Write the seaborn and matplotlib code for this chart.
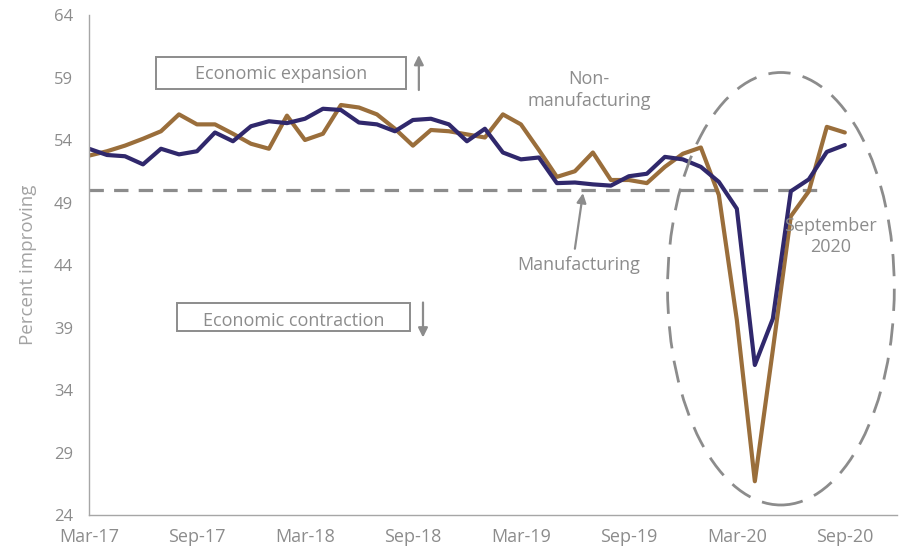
import matplotlib
matplotlib.use("Agg")
import matplotlib.pyplot as plt
import numpy as np
import pandas as pd
import seaborn as sns
from matplotlib.patches import Ellipse, Rectangle

# Monthly survey readings, Mar-2017 .. Sep-2020
months = pd.date_range("2017-03-01", "2020-09-01", freq="MS")
month_labels = [d.strftime("%b-%y") for d in months]

manufacturing = [
    53.3, 52.8, 52.7, 52.05, 53.3, 52.85, 53.1, 54.6, 53.9, 55.1,
    55.5, 55.35, 55.7, 56.5, 56.4, 55.4, 55.25, 54.7, 55.6, 55.7,
    55.25, 53.9, 54.9, 53.0, 52.45, 52.6, 50.55, 50.6, 50.45, 50.35,
    51.1, 51.3, 52.65, 52.45, 51.85, 50.65, 48.5, 36.0, 39.7, 49.9,
    50.85, 53.05, 53.6,
]
non_manufacturing = [
    52.75, 53.1, 53.55, 54.1, 54.7, 56.05, 55.25, 55.25, 54.5, 53.7,
    53.3, 55.95, 54.0, 54.5, 56.8, 56.6, 56.05, 54.9, 53.55, 54.8,
    54.7, 54.45, 54.2, 56.05, 55.25, 53.2, 51.05, 51.5, 53.0, 50.8,
    50.8, 50.55, 51.85, 52.9, 53.4, 49.6, 39.6, 26.7, 37.2, 47.9,
    49.9, 55.05, 54.6,
]
y_ticks = [24, 29, 34, 39, 44, 49, 54, 59, 64]
threshold = 50

BROWN = "#9A6E3B"
NAVY = "#30286C"
GREY = "#8C8C8C"
LIGHT_GREY = "#A3A3A3"
SPINE = "#A6A6A6"

sns.set_theme(style="white")
plt.rcParams["font.family"] = ["Open Sans", "DejaVu Sans"]

df = pd.DataFrame({
    "idx": np.arange(len(months)),
    "Non-manufacturing": non_manufacturing,
    "Manufacturing": manufacturing,
})
long_df = df.melt(id_vars="idx", var_name="series", value_name="value")

fig = plt.figure(figsize=(9.03, 5.52), dpi=100)
ax = fig.add_axes([89 / 903, 37 / 552, 808 / 903, 500 / 552])

# 50 = boundary between expansion and contraction
ax.plot([0, 40.5], [threshold, threshold], color=GREY, lw=2.3,
        dashes=(4.5, 3.2), zorder=1)

sns.lineplot(data=long_df, x="idx", y="value", hue="series",
             hue_order=["Non-manufacturing", "Manufacturing"],
             palette={"Non-manufacturing": BROWN, "Manufacturing": NAVY},
             lw=3.0, legend=False, ax=ax, zorder=2)

# Highlight of the 2020 collapse and rebound
ax.add_patch(Ellipse((38.45, 42.1), 12.6, 34.6, fill=False, edgecolor=GREY,
                     lw=2.0, linestyle=(0, (8, 4.5)), zorder=3))

ax.set_xlim(0, 44.9)
ax.set_ylim(24, 64)
ax.set_yticks(y_ticks)
ax.set_xticks(np.arange(0, 45))
ax.set_xticklabels([month_labels[i] if (i < len(month_labels) and i % 6 == 0) else ""
                    for i in range(45)])
ax.set_xlabel("")
ax.set_ylabel("Percent improving", color=LIGHT_GREY, fontsize=13.5, labelpad=12)

for side in ("top", "right"):
    ax.spines[side].set_visible(False)
for side in ("left", "bottom"):
    ax.spines[side].set_color(SPINE)
    ax.spines[side].set_linewidth(1.0)
ax.tick_params(axis="both", colors=SPINE, labelcolor=GREY, labelsize=12,
               direction="out", length=4.5, width=1.0)
ax.tick_params(axis="y", pad=7)
ax.tick_params(axis="x", pad=5, labelsize=13)

FS = 13
# Expansion / contraction labels
ax.add_patch(Rectangle((3.72, 58.1), 13.9, 2.55, fill=False, edgecolor=GREY,
                       lw=1.4, zorder=4))
ax.text(10.67, 59.3, "Economic expansion", ha="center", va="center",
        color=GREY, fontsize=FS)
ax.annotate("", xy=(18.33, 60.8), xytext=(18.33, 58.0),
            arrowprops=dict(arrowstyle="-|>", color=GREY, lw=1.6,
                            mutation_scale=14, shrinkA=0, shrinkB=0))

ax.add_patch(Rectangle((4.9, 38.72), 12.93, 2.24, fill=False, edgecolor=GREY,
                       lw=1.4, zorder=4))
ax.text(11.36, 39.55, "Economic contraction", ha="center", va="center",
        color=GREY, fontsize=FS)
ax.annotate("", xy=(18.56, 38.2), xytext=(18.56, 41.0),
            arrowprops=dict(arrowstyle="-|>", color=GREY, lw=1.6,
                            mutation_scale=14, shrinkA=0, shrinkB=0))

# Series labels
ax.text(27.8, 58.0, "Non-\nmanufacturing", ha="center", va="center",
        color=GREY, fontsize=FS, linespacing=1.25)
ax.text(27.2, 44.0, "Manufacturing", ha="center", va="center",
        color=GREY, fontsize=FS)
ax.annotate("", xy=(27.45, 49.75), xytext=(27.0, 45.3),
            arrowprops=dict(arrowstyle="-|>", color=GREY, lw=1.6,
                            mutation_scale=14, shrinkA=0, shrinkB=0))

ax.text(41.2, 46.3, "September\n2020", ha="center", va="center",
        color=GREY, fontsize=FS, linespacing=1.25)

fig.savefig("out.png", dpi=100)
